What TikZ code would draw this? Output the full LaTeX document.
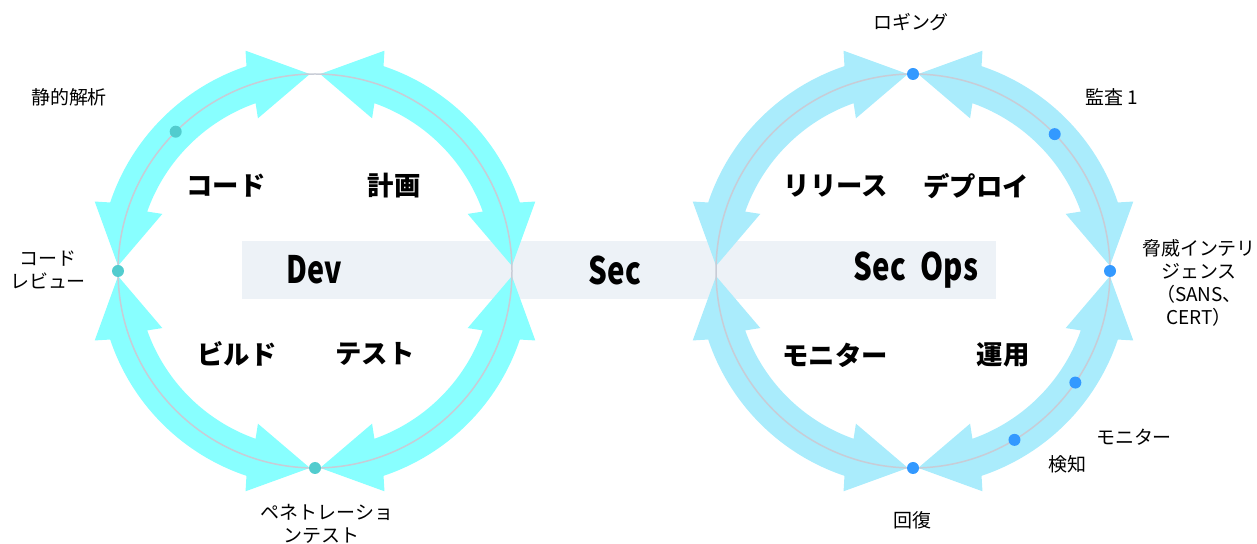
\documentclass[tikz,border=0pt]{standalone}
\usepackage{fontspec}
\setmainfont{Noto Sans CJK JP}
\usepackage{graphicx}
\usetikzlibrary{calc}
\definecolor{bandL}{HTML}{88FFFF}
\definecolor{bandR}{HTML}{AAECFC}
\definecolor{dotL}{HTML}{52CCCE}
\definecolor{dotR}{HTML}{3399FF}
\definecolor{ring}{HTML}{C8CCD6}
\definecolor{boxbg}{HTML}{EDF2F7}
\tikzset{
  big/.style={font=\fontsize{15}{18}\selectfont\bfseries, inner sep=0pt},
  small/.style={font=\fontsize{10.8}{13}\selectfont, align=center, inner sep=0pt},
  title/.style={font=\fontsize{21.5}{24}\selectfont\bfseries, inner sep=0pt},
  ringline/.style={draw=ring, line width=0.85pt},
  dotl/.style={circle, fill=dotL, inner sep=0pt, minimum size=0.24cm},
  dotr/.style={circle, fill=dotR, inner sep=0pt, minimum size=0.24cm},
}
% double-headed curved arrow band: #1 centre x, #2 centre y, #3 tip angle 1, #4 tip angle 2, #5 colour
\newcommand{\dbarc}[5]{%
  \fill[#5, shift={(#1,#2)}] (#3:197) -- ({#3+16}:231) -- ({#3+17}:216)
    arc[start angle={#3+17}, end angle={#4-17}, radius=216]
    -- ({#4-16}:231) -- (#4:197) -- ({#4-19}:163) -- ({#4-18}:178)
    arc[start angle={#4-18}, end angle={#3+18}, radius=178]
    -- ({#3+19}:163) -- cycle;
}
\begin{document}
\begin{tikzpicture}[x=0.02cm, y=0.02cm]
\useasboundingbox (0,0) rectangle (1257,544);
% central band
\fill[boxbg] (242,245) rectangle (996,303);
% left loop arrows
\dbarc{315}{273}{1.5}{88.5}{bandL}
\dbarc{315}{273}{91.5}{178.5}{bandL}
\dbarc{315}{273}{181.5}{268.5}{bandL}
\dbarc{315}{273}{271.5}{358.5}{bandL}
% right loop arrows
\dbarc{913}{273}{1.5}{88.5}{bandR}
\dbarc{913}{273}{91.5}{178.5}{bandR}
\dbarc{913}{273}{181.5}{268.5}{bandR}
\dbarc{913}{273}{271.5}{358.5}{bandR}
% rings
\coordinate (C1) at (315,273);
\coordinate (C2) at (913,273);
\draw[ringline] (C1) circle[radius=197];
\draw[ringline] (C2) circle[radius=197];
% dots
\node[dotl] (dl1) at ($(C1)+(135:197)$) {};
\node[dotl] (dl2) at ($(C1)+(180:197)$) {};
\node[dotl] (dl3) at ($(C1)+(270:197)$) {};
\node[dotr] (dr1) at ($(C2)+(90:197)$) {};
\node[dotr] (dr2) at ($(C2)+(44:197)$) {};
\node[dotr] (dr3) at ($(C2)+(0:197)$) {};
\node[dotr] (dr4) at ($(C2)+(-34.5:197)$) {};
\node[dotr] (dr5) at ($(C2)+(-59:197)$) {};
\node[dotr] (dr6) at ($(C2)+(270:197)$) {};
% titles
\node[title] (dev) at (314,274) {\scalebox{0.76}[1]{Dev}};
\node[title] (sec) at (615,274) {\scalebox{0.78}[1]{Sec}};
\node[title] (secops) at (916,274) {\scalebox{0.78}[1]{Sec\hspace{0.5em}Ops}};
% phase labels
\node[big] (code) at (226,358) {コード};
\node[big] (plan) at (394,358) {計画};
\node[big] (build) at (237,190) {ビルド};
\node[big] (test) at (375,190) {テスト};
\node[big] (release) at (836,358) {リリース};
\node[big] (deploy) at (976,358) {デプロイ};
\node[big] (monitor) at (835,189) {モニター};
\node[big] (operate) at (1003,189) {運用};
% small labels
\node[small] (sast) at (69,447) {静的解析};
\node[small] (review) at (48,274) {コード\\レビュー};
\node[small] (pentest) at (327,20) {ペネトレーショ\\\hspace*{-0.6em}ンテスト};
\node[small] (logging) at (911,522) {ロギング};
\node[small] (audit) at (1112,447) {監査 1};
\node[small] (ti) at (1199,261) {脅威インテリ\\ジェンス\\（SANS、\\CERT）};
\node[small] (mon2) at (1134,107) {モニター};
\node[small] (detect) at (1067,80) {検知};
\node[small] (recover) at (912,24) {回復};
\end{tikzpicture}
\end{document}
